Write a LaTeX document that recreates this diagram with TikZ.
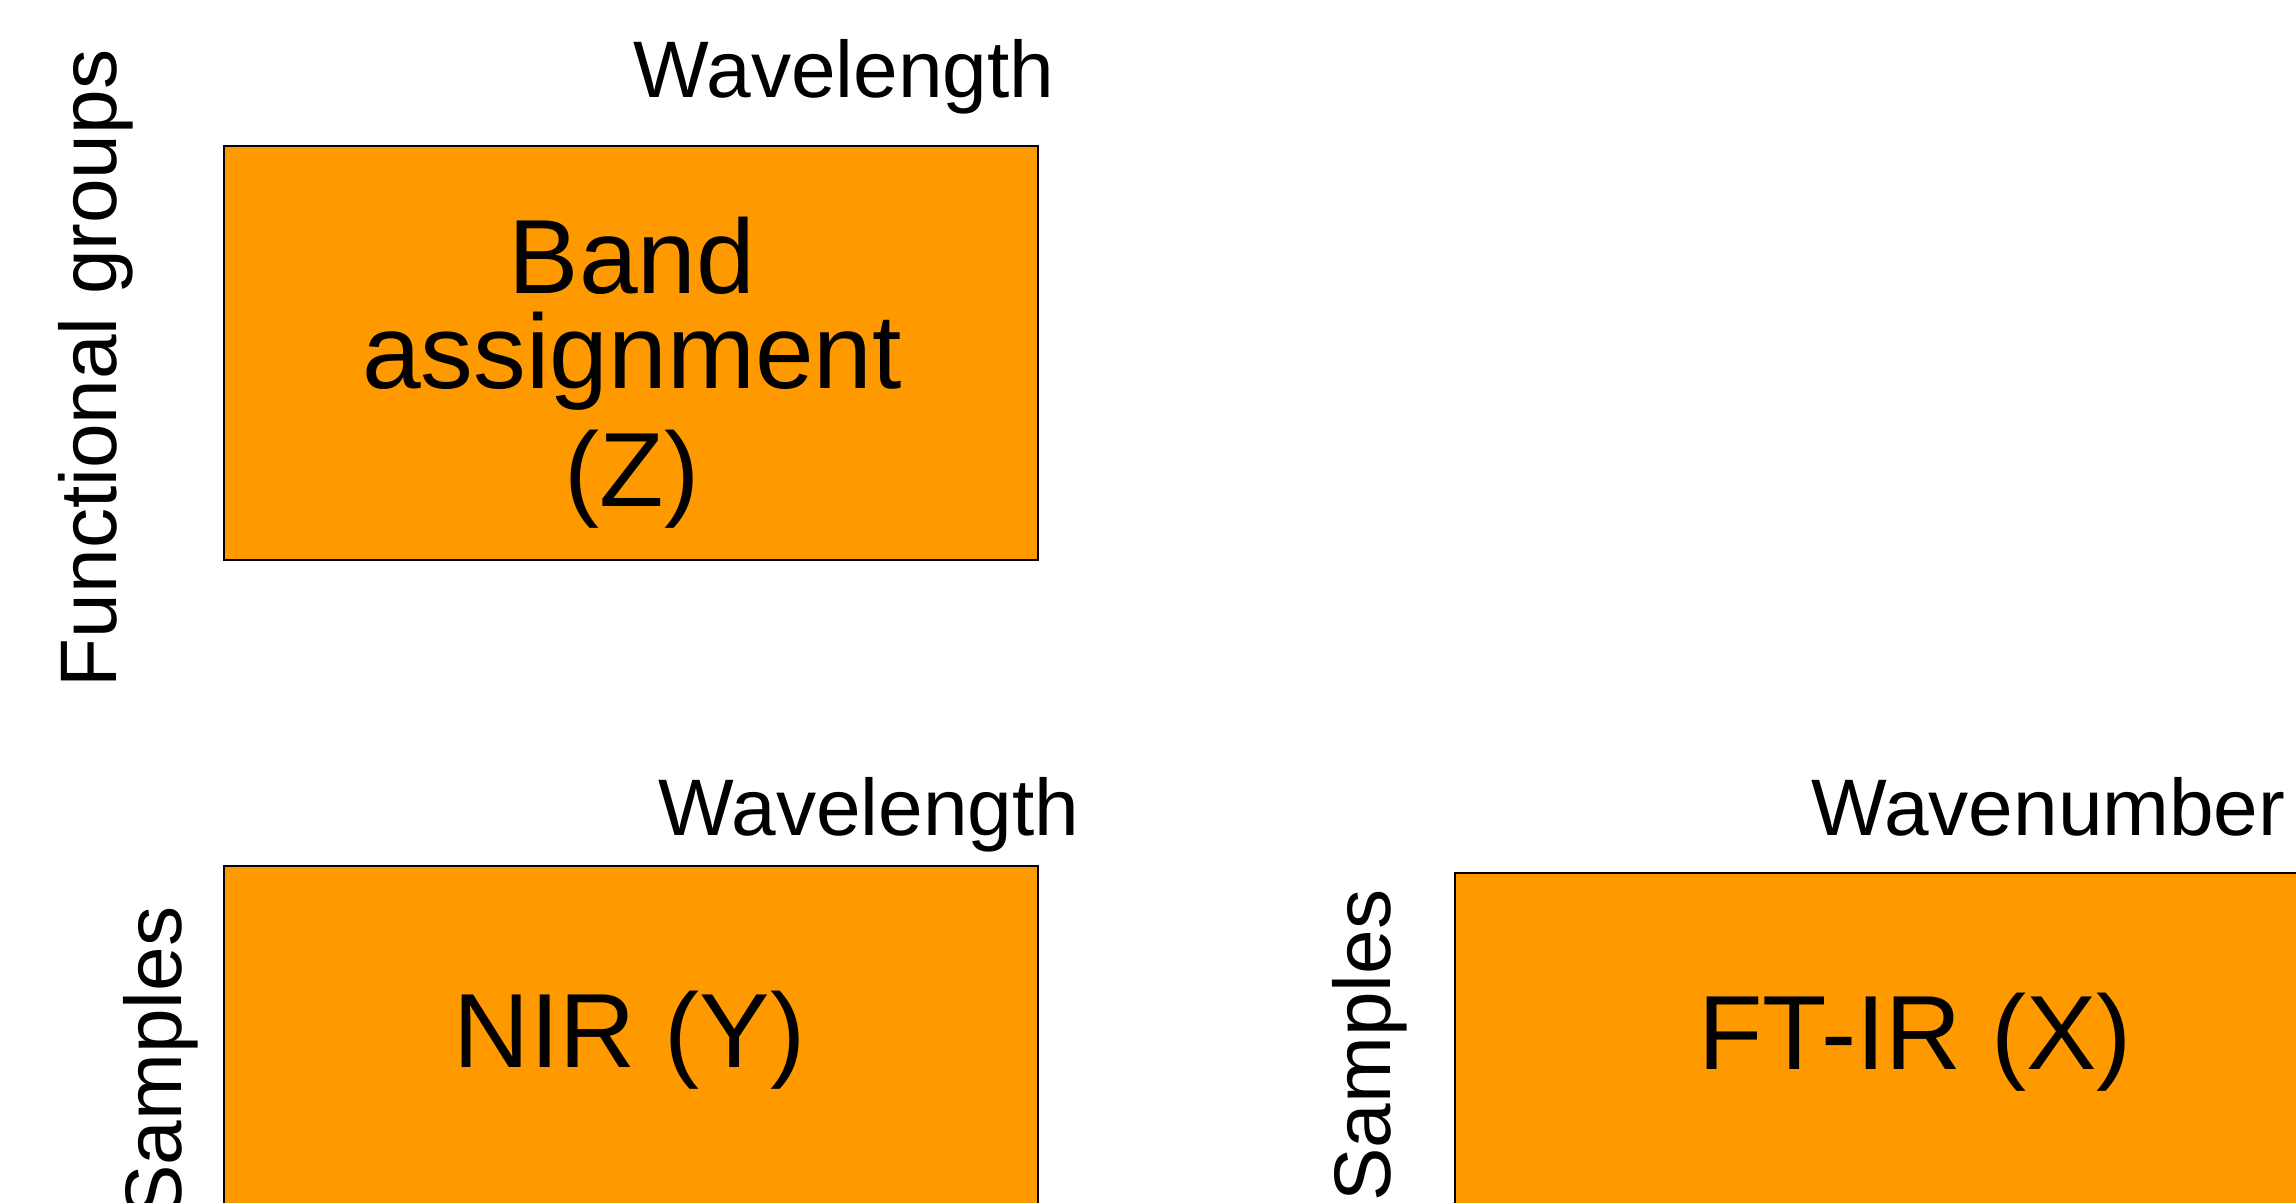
\documentclass[tikz,border=0pt]{standalone}
\usepackage{fontspec}
\setmainfont{Liberation Sans}
\usepackage{tikz}
\usetikzlibrary{positioning}

\definecolor{blockorange}{RGB}{255,153,0}

\begin{document}
\begin{tikzpicture}[x=0.01cm, y=-0.01cm,
  databox/.style={rectangle, draw=black, line width=0.6pt, fill=blockorange,
                  minimum width=8.14cm, minimum height=4.14cm, inner sep=0pt},
  boxtext/.style={align=center, inner sep=0pt, font=\fontsize{30}{27.2}\selectfont},
  axislabel/.style={inner sep=0pt, font=\fontsize{22.8}{26}\selectfont},
]
  \useasboundingbox (0,0) rectangle (2296,1203);
  \clip (0,0) rectangle (2296,1203);

  % data blocks
  \node[databox, anchor=north west] (band) at (222.6,145) {};
  \node[databox, anchor=north west] (nir) at (222.6,865) {};
  \node[databox, anchor=north west, minimum width=9.23cm] (ftir) at (1453.5,872) {};

  \node[boxtext, anchor=north] (bandtxt) at (632,216) {Band\\assignment\\[0.154cm](Z)};
  \node[boxtext, anchor=base] (nirtxt) at (629.7,1067) {NIR (Y)};
  \node[boxtext, anchor=base] (ftirtxt) at (1915,1069) {FT-IR (X)};

  % axis labels
  \node[axislabel, anchor=base east] (bandcol) at (1055,97.6) {Wavelength};
  \node[axislabel, anchor=base east] (nircol) at (1080,835) {Wavelength};
  \node[axislabel, anchor=base east] (ftircol) at (2286,835) {Wavenumber};

  \node[axislabel, rotate=90, anchor=base east] (bandrow) at (116,49) {Functional groups};
  \node[axislabel, rotate=90, anchor=base east] (nirrow) at (181,906) {Samples};
  \node[axislabel, rotate=90, anchor=base east] (ftirrow) at (1390,889) {Samples};
\end{tikzpicture}
\end{document}
